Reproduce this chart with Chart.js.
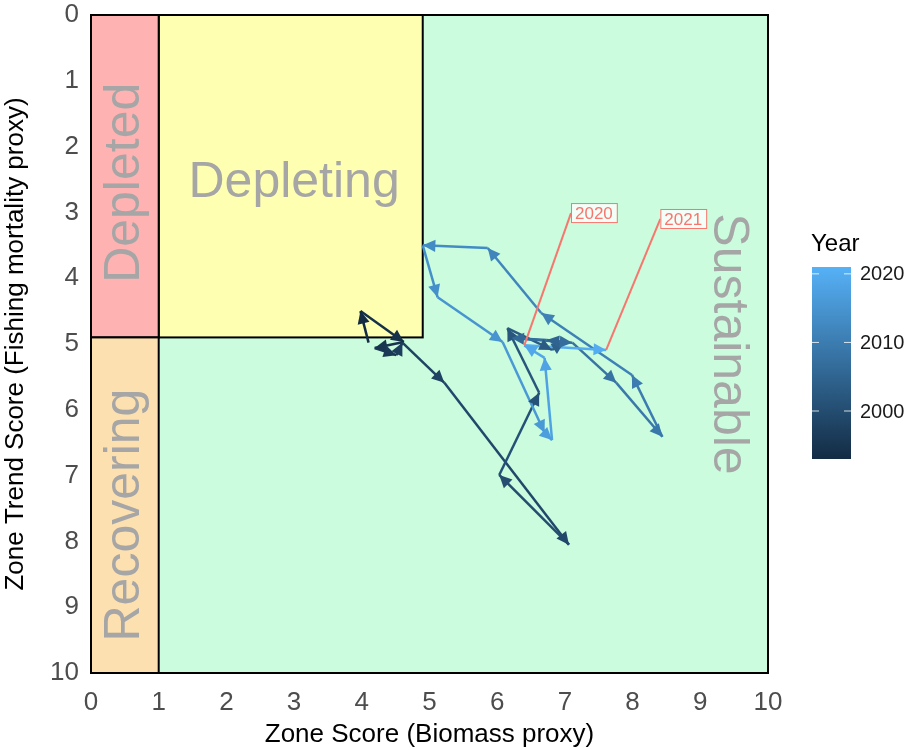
<!DOCTYPE html>
<html>
<head>
<meta charset="utf-8">
<script src="https://cdn.jsdelivr.net/npm/chart.js@4.4.0/dist/chart.umd.min.js"></script>
<style>
  html, body { margin: 0; padding: 0; background: #fff; }
  #wrap { width: 912px; height: 750px; position: relative; }
</style>
</head>
<body>
<div id="wrap"><canvas id="zoneChart"></canvas></div>
<script>
// yearly zone scores
const years = [1993, 1994, 1995, 1996, 1997, 1998, 1999, 2000, 2001, 2002,
               2003, 2004, 2005, 2006, 2007, 2008, 2009, 2010, 2011, 2012,
               2013, 2014, 2015, 2016, 2017, 2018, 2019, 2020, 2021];
const zoneScore = [4.10, 3.98, 4.62, 4.19, 4.51, 4.60, 5.22, 7.06, 6.03, 6.62,
                   6.15, 6.81, 6.99, 6.73, 6.21, 7.11, 7.76, 8.44, 7.99, 6.65,
                   5.86, 4.90, 5.12, 6.08, 6.70, 6.81, 6.70, 6.40, 7.61];
const trendScore = [4.98, 4.50, 4.97, 5.06, 5.17, 4.98, 5.59, 8.05, 6.99, 5.74,
                    4.76, 5.09, 4.97, 4.94, 4.91, 4.98, 5.59, 6.41, 5.47, 4.53,
                    3.54, 3.50, 4.29, 4.97, 6.35, 6.46, 5.21, 5.02, 5.09];
const axisTicks = [0, 1, 2, 3, 4, 5, 6, 7, 8, 9, 10];
const legendTicks = [2000, 2010, 2020];
const labelledYears = [2020, 2021];

const LOW = [19, 43, 67];     // #132B43
const HIGH = [86, 177, 247];  // #56B1F7
const yearMin = years[0], yearMax = years[years.length - 1];
const FONT = '"Liberation Sans", Arial, sans-serif';

function yearColor(y) {
    const t = (y - yearMin) / (yearMax - yearMin);
    const c = LOW.map((v, i) => Math.round(v + (HIGH[i] - v) * t));
    return `rgb(${c[0]}, ${c[1]}, ${c[2]})`;
}

const points = years.map((y, i) => ({ x: zoneScore[i], y: trendScore[i], year: y }));

// zone rectangles behind the path
const zonesPlugin = {
    id: 'zones',
    beforeDatasetsDraw(chart) {
        const ctx = chart.ctx;
        const xs = chart.scales.x, ys = chart.scales.y;
        const rect = (x0, x1, y0, y1, fill) => {
            const px0 = xs.getPixelForValue(x0), px1 = xs.getPixelForValue(x1);
            const py0 = ys.getPixelForValue(y0), py1 = ys.getPixelForValue(y1);
            ctx.fillStyle = fill;
            ctx.fillRect(px0, py0, px1 - px0, py1 - py0);
            ctx.strokeStyle = '#000';
            ctx.lineWidth = 2;
            ctx.strokeRect(px0, py0, px1 - px0, py1 - py0);
        };
        ctx.save();
        rect(0, 10, 0, 10, '#CAFCDD');
        rect(1, 4.9, 0, 4.9, '#FFFFB2');
        rect(0, 1, 0, 4.9, '#FFB2B2');
        rect(0, 1, 4.9, 10, '#FDE0B0');

        ctx.fillStyle = '#A6A6A6';
        ctx.font = '50px ' + FONT;
        ctx.textAlign = 'center';
        ctx.textBaseline = 'middle';
        ctx.fillText('Depleting', xs.getPixelForValue(3.0), ys.getPixelForValue(2.55));

        const vtext = (txt, x, y, rot) => {
            ctx.save();
            ctx.translate(xs.getPixelForValue(x), ys.getPixelForValue(y));
            ctx.rotate(rot);
            ctx.fillText(txt, 0, 0);
            ctx.restore();
        };
        vtext('Depleted', 0.5, 2.55, -Math.PI / 2);
        vtext('Recovering', 0.5, 7.6, -Math.PI / 2);
        vtext('Sustainable', 9.4, 5.0, Math.PI / 2);
        ctx.restore();
    }
};

// arrowheads, year labels and colour bar
const overlayPlugin = {
    id: 'overlay',
    afterDatasetsDraw(chart) {
        const ctx = chart.ctx;
        const xs = chart.scales.x, ys = chart.scales.y;
        ctx.save();
        for (let i = 1; i < points.length; i++) {
            const x0 = xs.getPixelForValue(points[i - 1].x), y0 = ys.getPixelForValue(points[i - 1].y);
            const x1 = xs.getPixelForValue(points[i].x), y1 = ys.getPixelForValue(points[i].y);
            const a = Math.atan2(y1 - y0, x1 - x0);
            const len = 14, half = Math.PI / 7;
            ctx.fillStyle = yearColor(points[i - 1].year);
            ctx.beginPath();
            ctx.moveTo(x1, y1);
            ctx.lineTo(x1 - len * Math.cos(a - half), y1 - len * Math.sin(a - half));
            ctx.lineTo(x1 - len * Math.cos(a + half), y1 - len * Math.sin(a + half));
            ctx.closePath();
            ctx.fill();
        }

        // repelled year labels
        const labelPos = { 2020: [7.09, 3.01], 2021: [8.41, 3.1] };
        ctx.font = '17px ' + FONT;
        ctx.textBaseline = 'middle';
        ctx.textAlign = 'left';
        labelledYears.forEach(yr => {
            const p = points[years.indexOf(yr)];
            const lx = xs.getPixelForValue(labelPos[yr][0]);
            const ly = ys.getPixelForValue(labelPos[yr][1]);
            ctx.strokeStyle = '#F8766D';
            ctx.lineWidth = 2;
            ctx.beginPath();
            ctx.moveTo(lx, ly);
            ctx.lineTo(xs.getPixelForValue(p.x), ys.getPixelForValue(p.y));
            ctx.stroke();
            const w = ctx.measureText(String(yr)).width + 8;
            ctx.fillStyle = 'rgba(255,255,255,0.75)';
            ctx.fillRect(lx, ly - 10, w, 20);
            ctx.lineWidth = 1;
            ctx.strokeRect(lx + 0.5, ly - 9.5, w, 19);
            ctx.fillStyle = '#F8766D';
            ctx.fillText(String(yr), lx + 4, ly + 1);
        });

        // colour bar legend
        const bx = 812, bw = 39, top = 267, bottom = 459;
        const grad = ctx.createLinearGradient(0, bottom, 0, top);
        grad.addColorStop(0, yearColor(yearMin));
        grad.addColorStop(1, yearColor(yearMax));
        ctx.fillStyle = grad;
        ctx.fillRect(bx, top, bw, bottom - top);
        ctx.fillStyle = '#000';
        ctx.font = '24px ' + FONT;
        ctx.textBaseline = 'alphabetic';
        ctx.fillText('Year', 811, 251);
        ctx.font = '20px ' + FONT;
        ctx.textBaseline = 'middle';
        ctx.fillStyle = '#1A1A1A';
        legendTicks.forEach(t => {
            const py = bottom - (t - yearMin) / (yearMax - yearMin) * (bottom - top);
            ctx.strokeStyle = 'rgba(255,255,255,0.8)';
            ctx.lineWidth = 1;
            ctx.beginPath();
            ctx.moveTo(bx, py); ctx.lineTo(bx + 7, py);
            ctx.moveTo(bx + bw - 7, py); ctx.lineTo(bx + bw, py);
            ctx.stroke();
            ctx.fillText(String(t), 860, py + 1);
        });
        ctx.restore();
    }
};

new Chart(document.getElementById('zoneChart'), {
    type: 'scatter',
    data: {
        datasets: [{
            data: points,
            showLine: true,
            borderWidth: 2.5,
            pointRadius: 0,
            pointHoverRadius: 0,
            borderColor: yearColor(yearMin),
            segment: {
                borderColor: c => yearColor(years[c.p0DataIndex])
            }
        }]
    },
    options: {
        responsive: true,
        maintainAspectRatio: false,
        animation: false,
        layout: { padding: { top: 15, right: 144, left: 0, bottom: 0 } },
        plugins: { legend: { display: false }, tooltip: { enabled: false } },
        scales: {
            x: {
                type: 'linear', min: 0, max: 10,
                afterBuildTicks: s => { s.ticks = axisTicks.map(v => ({ value: v })); },
                afterFit: s => { s.height = 77; s.paddingLeft = 0; s.paddingRight = 0; },
                grid: { display: false, drawTicks: false },
                border: { display: false },
                ticks: { color: '#4D4D4D', padding: 14, font: { size: 26, family: FONT } },
                title: { display: true, text: 'Zone Score (Biomass proxy)', color: '#000',
                         padding: { top: 0, bottom: 0 },
                         font: { size: 26, family: FONT } }
            },
            y: {
                type: 'linear', min: 0, max: 10, reverse: true,
                afterBuildTicks: s => { s.ticks = axisTicks.map(v => ({ value: v })); },
                afterFit: s => { s.width = 91; s.paddingTop = 0; s.paddingBottom = 0; },
                grid: { display: false, drawTicks: false },
                border: { display: false },
                ticks: { color: '#4D4D4D', padding: 12, font: { size: 26, family: FONT } },
                title: { display: true, text: 'Zone Trend Score (Fishing mortality proxy)', color: '#000',
                         padding: { top: 0, bottom: 2 },
                         font: { size: 26, family: FONT } }
            }
        }
    },
    plugins: [zonesPlugin, overlayPlugin]
});
</script>
</body>
</html>
